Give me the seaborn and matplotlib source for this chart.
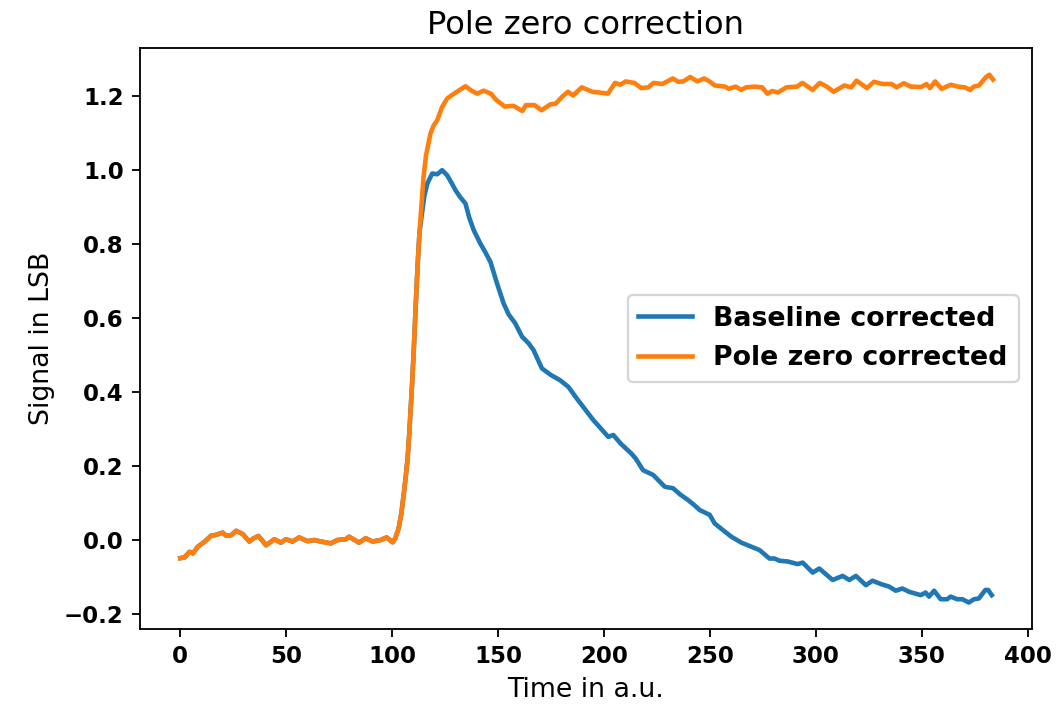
import matplotlib
matplotlib.use("Agg")
import matplotlib.pyplot as plt
import seaborn as sns

# Shared early part (both signals identical before the pulse)
t_common = [0, 2.0, 4.4, 6, 8.3, 11.4, 14.6, 16.9, 20, 21.6, 24, 26.4, 29.5, 32.6,
            34.5, 36.9, 40.5, 44.4, 47.5, 49.9, 53, 56.1, 60, 63.2, 66.4, 71, 74.2,
            78.1, 79.7, 84.4, 87.5, 90.7, 94.6, 97.4, 100.2, 101.5, 103, 104.3, 105.4,
            106.4, 107.3, 108.0, 108.7, 109.4, 110.1, 110.8, 111.5, 112.2, 112.9]
y_common = [-0.049, -0.047, -0.032, -0.036, -0.018, -0.005, 0.012, 0.014, 0.02, 0.012,
            0.013, 0.025, 0.016, -0.004, 0.004, 0.011, -0.014, 0.002, -0.007, 0.002,
            -0.004, 0.007, -0.003, 0.0, -0.004, -0.009, 0.0, 0.002, 0.009, -0.007,
            0.005, -0.004, 0.0, 0.007, -0.006, 0.005, 0.03, 0.07, 0.12, 0.17, 0.22,
            0.28, 0.35, 0.42, 0.5, 0.59, 0.68, 0.76, 0.83]

# Baseline corrected signal after the pulse onset
t_base = [114.0, 115.2, 116.6, 118.9, 121.3, 123.6, 126, 128, 129.9, 132, 134.6, 136.5,
          138.5, 141.6, 144, 146.4, 149.5, 152.6, 155, 158.1, 161.3, 164.4, 166.7,
          170.7, 175, 179.3, 183.2, 187.1, 191, 195, 198, 202, 204.4, 208, 212.9, 215,
          218.4, 223.2, 228.7, 232.6, 236, 239.7, 242.5, 245.2, 249.9, 252.2, 256.1,
          260.1, 264.8, 268.7, 273.4, 278.1, 280.5, 282.8, 286.7, 291.4, 293.8, 298.5,
          301.6, 307.9, 312.6, 315.8, 318.9, 323.6, 326.7, 330.7, 334.6, 337.7, 340.8,
          344, 349.5, 351.8, 353.4, 355.8, 358.9, 362, 363.6, 366.7, 369.1, 372.2,
          374.6, 376.9, 380, 381.3, 383.0]
y_base = [0.88, 0.93, 0.964, 0.991, 0.989, 1.0, 0.986, 0.966, 0.946, 0.928, 0.91, 0.87,
          0.838, 0.802, 0.778, 0.752, 0.694, 0.64, 0.61, 0.586, 0.55, 0.532, 0.514,
          0.464, 0.446, 0.432, 0.414, 0.383, 0.354, 0.324, 0.305, 0.279, 0.284, 0.26,
          0.234, 0.22, 0.189, 0.176, 0.144, 0.14, 0.123, 0.108, 0.095, 0.081, 0.068,
          0.045, 0.027, 0.009, -0.007, -0.016, -0.027, -0.05, -0.05, -0.056, -0.058,
          -0.065, -0.061, -0.088, -0.077, -0.108, -0.097, -0.108, -0.097, -0.122,
          -0.11, -0.119, -0.126, -0.137, -0.131, -0.14, -0.149, -0.142, -0.153,
          -0.137, -0.16, -0.16, -0.153, -0.16, -0.16, -0.169, -0.16, -0.158, -0.135,
          -0.135, -0.149]

# Pole zero corrected signal after the pulse onset
t_pz = [114.8, 116, 118.1, 119.5, 121.3, 123.5, 126, 130, 134.6, 137.5, 140.1, 143.2,
        146.6, 149.1, 153.2, 157.3, 161.5, 163.1, 167.2, 170.5, 174.7, 177.2, 180.5,
        183, 185.4, 189.5, 194.5, 197.8, 201.9, 205.2, 207.7, 210.2, 214.3, 217.6,
        220.9, 223.4, 227.5, 232.5, 235, 237.4, 240.7, 244, 247.3, 249.8, 252.3,
        257.2, 258.9, 262.2, 264.7, 267.1, 271.3, 274.6, 277.1, 279.5, 282, 286.1,
        291.1, 293.6, 298.5, 301.8, 305.1, 308.4, 313.4, 316.7, 319.2, 324.1, 327.4,
        331.5, 335.7, 338.1, 341.5, 344.8, 349.7, 352.2, 353.8, 356.3, 359.3, 363.7,
        367, 370.3, 372.8, 374.5, 377, 380.3, 381.9, 383.6]
y_pz = [0.98, 1.04, 1.099, 1.12, 1.135, 1.17, 1.194, 1.21, 1.227, 1.215, 1.207, 1.215,
        1.207, 1.19, 1.172, 1.174, 1.16, 1.176, 1.176, 1.162, 1.178, 1.18, 1.2, 1.212,
        1.202, 1.224, 1.212, 1.21, 1.207, 1.236, 1.231, 1.24, 1.236, 1.222, 1.224,
        1.236, 1.233, 1.248, 1.239, 1.24, 1.252, 1.24, 1.248, 1.24, 1.229, 1.226,
        1.22, 1.226, 1.217, 1.224, 1.226, 1.224, 1.207, 1.214, 1.21, 1.224, 1.226,
        1.236, 1.217, 1.236, 1.226, 1.212, 1.229, 1.224, 1.242, 1.222, 1.239, 1.233,
        1.233, 1.224, 1.235, 1.226, 1.225, 1.233, 1.222, 1.24, 1.22, 1.231, 1.226,
        1.224, 1.217, 1.226, 1.229, 1.252, 1.258, 1.245]

labels = ["Baseline corrected", "Pole zero corrected"]
colors = ["#1f77b4", "#ff7f0e"]

x_b = t_common + t_base
y_b = y_common + y_base
x_p = t_common + t_pz
y_p = y_common + y_pz

fig, ax = plt.subplots(figsize=(1059 / 165, 708 / 165), dpi=165)
fig.subplots_adjust(left=0.132, right=0.9745, bottom=0.1116, top=0.932)

sns.lineplot(x=x_b, y=y_b, ax=ax, color=colors[0], label=labels[0], linewidth=2,
             sort=False, estimator=None)
sns.lineplot(x=x_p, y=y_p, ax=ax, color=colors[1], label=labels[1], linewidth=2,
             sort=False, estimator=None)

ax.set_xlim(-19.1, 402)
ax.set_ylim(-0.2405, 1.33)
ax.set_xticks([0, 50, 100, 150, 200, 250, 300, 350, 400])
ax.set_yticks([-0.2, 0.0, 0.2, 0.4, 0.6, 0.8, 1.0, 1.2])
ax.set_yticklabels(["\u22120.2", "0.0", "0.2", "0.4", "0.6", "0.8", "1.0", "1.2"])
for lab in ax.get_xticklabels() + ax.get_yticklabels():
    lab.set_fontweight("bold")
    lab.set_fontsize(10)

ax.set_title("Pole zero correction", fontsize=12 * 1.17)
ax.set_xlabel("Time in a.u.", fontsize=10 * 1.17)
ax.set_ylabel("Signal in LSB", fontsize=10 * 1.17)

leg = ax.legend(loc="center right", prop={"weight": "bold", "size": 10 * 1.17})

fig.savefig("out.png", dpi=165)
